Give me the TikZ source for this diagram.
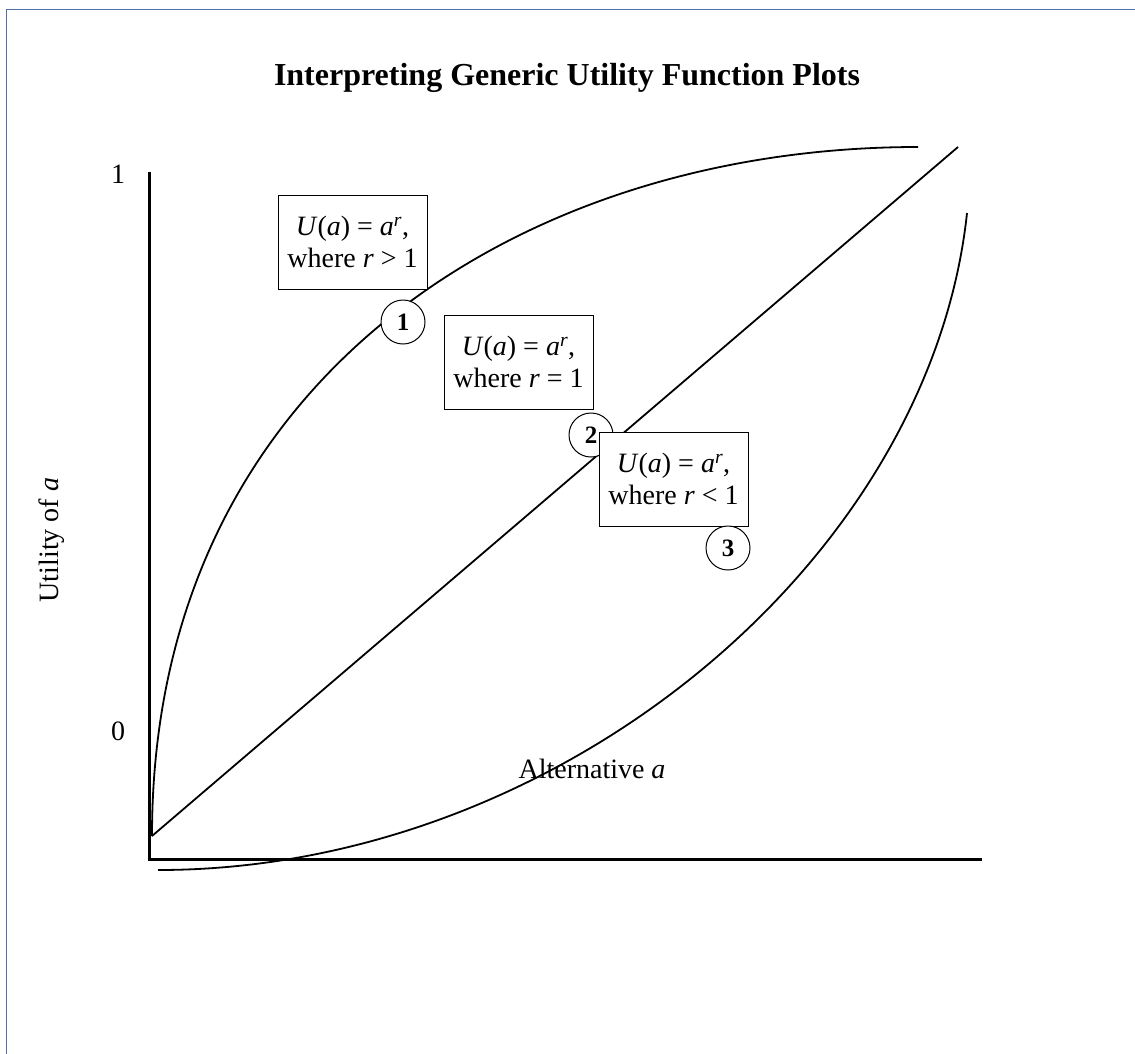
\documentclass[tikz,border=0pt]{standalone}
\usepackage{fontspec}
\setmainfont{Liberation Serif}
\begin{document}
\begin{tikzpicture}[x=1pt,y=-1pt,
  frameline/.style={draw=frameblue,line width=1.5pt},
  axisline/.style={line width=3pt},
  curveline/.style={line width=1.8pt},
  infobox/.style={draw,line width=1pt,fill=white,minimum width=149pt,minimum height=94pt,
    align=center,inner sep=0pt,font=\fontsize{28}{32}\selectfont},
  marker/.style={draw,circle,line width=1pt,fill=white,minimum size=44pt,inner sep=0pt,
    font=\fontsize{25}{25}\selectfont\bfseries},
  ticklabel/.style={font=\fontsize{28}{28}\selectfont,inner sep=0pt}]
\definecolor{frameblue}{RGB}{79,114,166}
\useasboundingbox (0,0) rectangle (1135,1053);
\fill[white] (0,0) rectangle (1135,1053);

% page frame
\draw[frameline] (6.5,1060) -- (6.5,9.5) -- (1140,9.5);

% title
\node[font=\fontsize{32}{32}\selectfont\bfseries] (title) at (567,78) {Interpreting Generic Utility Function Plots};

% axes
\coordinate (o) at (149,859);
\coordinate (ytop) at (149,172);
\coordinate (xend) at (982,859);
\draw[axisline] (ytop) -- (149,860.5);
\draw[axisline] (147.5,859) -- (xend);

% axis labels
\node[ticklabel] (one) at (118,174) {1};
\node[ticklabel] (zero) at (118,731) {0};
\node[ticklabel,rotate=90] (ylab) at (52,540) {Utility of \textit{a}};
\node[ticklabel] (xlab) at (592,769) {Alternative \textit{a}};

% utility curves
\coordinate (c1s) at (152,836);
\coordinate (c1e) at (918,147);
\coordinate (c2e) at (958,147);
\coordinate (c3s) at (158,870);
\coordinate (c3e) at (967,213);
\draw[curveline] (c1s) .. controls (152,380) and (520,147) .. (c1e);
\draw[curveline] (c1s) -- (c2e);
\draw[curveline] (c3s) .. controls (560,870) and (930,560) .. (c3e);

% descriptions and markers
\node[infobox] (b1) at (352.5,242) {\textit{U}(\textit{a}) = \textit{a}\textsuperscript{\textit{r}},\\where \textit{r} > 1};
\node[marker] (m1) at (403,322) {1};
\node[infobox] (b2) at (518.5,362) {\textit{U}(\textit{a}) = \textit{a}\textsuperscript{\textit{r}},\\where \textit{r} = 1};
\node[marker] (m2) at (591,435) {2};
\node[infobox] (b3) at (673.5,479) {\textit{U}(\textit{a}) = \textit{a}\textsuperscript{\textit{r}},\\where \textit{r} < 1};
\node[marker] (m3) at (728,548) {3};
\end{tikzpicture}
\end{document}
